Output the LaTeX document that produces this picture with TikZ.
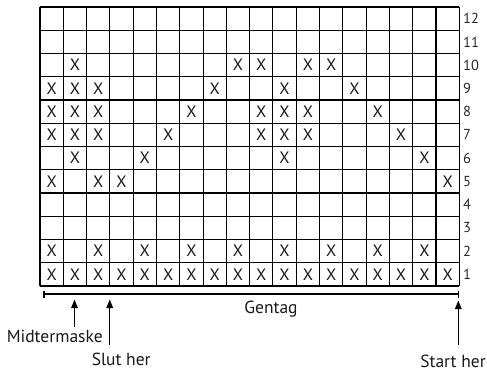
\documentclass[tikz,border=0pt]{standalone}
\usepackage{fontspec}
\setmainfont{PT Sans}
\usetikzlibrary{arrows.meta}
\begin{document}
\begin{tikzpicture}[x=1pt,y=-1pt,
  gridline/.style={line width=1.1pt},
  xmark/.style={font=\fontsize{16.5}{16.5}\selectfont, text=black!90, inner sep=0pt},
  rownum/.style={font=\fontsize{14.5}{14.5}\selectfont, text=black!85, anchor=west, inner sep=0pt},
  lbl/.style={font=\fontsize{17.5}{17.5}\selectfont, text=black!90, inner sep=0pt, anchor=base},
  bracketline/.style={line width=1.3pt},
  pointer/.style={line width=1.4pt, -{Triangle[width=6.5pt,length=8.5pt]}},
]
\useasboundingbox (0,0) rectangle (487,371);
\def\cw{23.294}\def\ch{23.25}
% grid
\foreach \i in {0,...,18} \draw[gridline] ({40+\i*\cw},7) -- ({40+\i*\cw},286);
\foreach \j in {0,...,12} \draw[gridline] (40,{7+\j*\ch}) -- (459.3,{7+\j*\ch});
% X marks
\foreach \r/\c in {10/2,10/9,10/10,10/12,10/13,
  9/1,9/2,9/3,9/8,9/11,9/14,
  8/1,8/2,8/3,8/7,8/10,8/11,8/12,8/15,
  7/1,7/2,7/3,7/6,7/10,7/11,7/12,7/16,
  6/2,6/5,6/11,6/17,
  5/1,5/3,5/4,5/18,
  2/1,2/3,2/5,2/7,2/9,2/11,2/13,2/15,2/17}
  \node[xmark] (x\r-\c) at ({40+(\c-0.5)*\cw},{286-(\r-0.5)*\ch}) {X};
\foreach \c in {1,...,18}
  \node[xmark] (x1-\c) at ({40+(\c-0.5)*\cw},{286-0.5*\ch}) {X};
% row numbers
\foreach \r in {1,...,12}
  \node[rownum] (r\r) at (463,{286-(\r-0.5)*\ch}) {\r};
% repeat bracket
\coordinate (bl) at (44,294);
\coordinate (br) at (458.3,294);
\draw[bracketline] (bl) -- (br);
\draw[bracketline] ([yshift=-3.5pt]bl) -- ([yshift=3.5pt]bl);
\draw[bracketline] ([yshift=-3.5pt]br) -- ([yshift=3.5pt]br);
\node[lbl] (gentag) at (271,313.3) {Gentag};
% labels and pointers
\node[lbl] (midt) at (54.7,342.8) {Midtermaske};
\node[lbl] (slut) at (121.2,365) {Slut her};
\node[lbl] (start) at (453,367) {Start her};
\coordinate (midtA) at (74.5,327);
\coordinate (midtB) at (74.5,299.5);
\coordinate (slutA) at (109.7,345);
\coordinate (slutB) at (109.7,299.5);
\coordinate (startA) at (458.3,345);
\coordinate (startB) at (458.3,300.5);
\draw[pointer] (midtA) -- (midtB);
\draw[pointer] (slutA) -- (slutB);
\draw[pointer] (startA) -- (startB);
\end{tikzpicture}
\end{document}
